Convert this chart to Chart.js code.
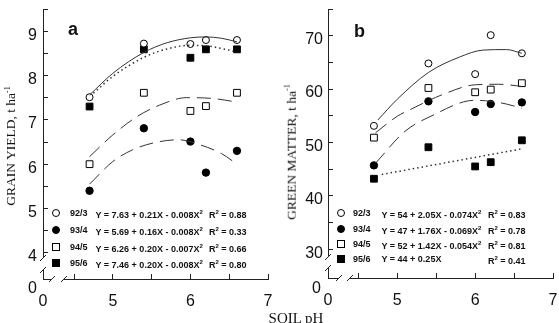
<!DOCTYPE html>
<html>
<head>
<meta charset="utf-8">
<script src="https://cdn.jsdelivr.net/npm/chart.js@4.4.0/dist/chart.umd.min.js"></script>
<style>
body { margin: 0; background: #fff; }
#wrap { position: relative; width: 559px; height: 323px; overflow: hidden; font-family: "Liberation Sans", Arial, sans-serif; color: #111; }
canvas { position: absolute; top: 0; }
#chartA { left: 0; }
#chartB { left: 280px; }
.panel { position: absolute; font-weight: bold; font-size: 18px; line-height: 18px; }
.ytitle { position: absolute; font-family: "Liberation Serif", "Times New Roman", serif; font-size: 13.5px; white-space: nowrap; transform: translate(-50%, -50%) rotate(-90deg); }
.ytitle sup { font-size: 8px; }
.xtitle { position: absolute; font-family: "Liberation Serif", "Times New Roman", serif; font-size: 15px; line-height: 15px; white-space: nowrap; transform: translateX(-50%); }
.origin { position: absolute; z-index: 5; width: 20px; text-align: right; font-size: 16px; line-height: 16px; }
.leg { position: absolute; font-size: 9px; font-weight: bold; white-space: nowrap; line-height: 10px; transform: translateY(-50%); }
.leg sup { font-size: 6px; }
.mk { position: absolute; width: 6px; height: 6px; border: 1px solid #000; transform: translate(-50%, -50%); }
.mk.round { border-radius: 50%; }
.mk.fill { background: #000; }
</style>
</head>
<body>
<div id="wrap">
  <canvas id="chartA" width="280" height="323"></canvas>
  <canvas id="chartB" width="279" height="323"></canvas>
  <div class="panel" style="left:68px;top:20px;">a</div>
  <div class="panel" style="left:354px;top:22px;">b</div>
  <div class="ytitle" style="left:11px;top:146px;">GRAIN YIELD, t ha<sup>-1</sup></div>
  <div class="ytitle" style="left:291px;top:152px;">GREEN MATTER, t ha<sup>-1</sup></div>
  <div class="xtitle" style="left:296px;top:310.5px;">SOIL pH</div>
  <div class="origin" style="left:17px;top:280px;">0</div>
  <div class="origin" style="left:301px;top:280px;">0</div>
  <div id="legA"></div>
  <div id="legB"></div>
</div>
<script>
// soil pH of the plots
const phX = [4.7, 5.4, 6.0, 6.2, 6.6];
const seasons = ['92/3', '93/4', '94/5', '95/6'];

// a - grain yield, t/ha
const grain923 = [7.51, 8.72, 8.71, 8.80, 8.80];
const grain934 = [5.40, 6.81, 6.51, 5.81, 6.30];
const grain945 = [6.00, 7.61, 7.20, 7.31, 7.61];
const grain956 = [7.30, 8.59, 8.40, 8.59, 8.59];

// fitted curves
const grainFitX923 = [4.7, 5.0, 5.4, 5.7, 6.0, 6.2, 6.4, 6.6];
const grainFit923 = [7.56, 8.05, 8.52, 8.74, 8.85, 8.87, 8.84, 8.76];
const grainFitX934 = [4.7, 5.0, 5.25, 5.55, 5.85, 6.1, 6.4, 6.6];
const grainFit934 = [5.55, 6.06, 6.32, 6.49, 6.55, 6.45, 6.24, 6.00];
const grainFitX945 = [4.7, 5.0, 5.3, 5.6, 5.95, 6.3, 6.6];
const grainFit945 = [6.17, 6.66, 7.06, 7.33, 7.50, 7.48, 7.40];
const grainFitX956 = [4.75, 5.0, 5.4, 5.7, 6.0, 6.2, 6.4, 6.6];
const grainFit956 = [7.60, 7.98, 8.41, 8.60, 8.68, 8.67, 8.61, 8.53];

// b - green matter, t/ha
const green923 = [53.1, 64.8, 62.8, 70.1, 66.7];
const green934 = [45.7, 57.7, 55.7, 57.2, 57.5];
const green945 = [50.9, 60.2, 59.4, 59.9, 61.1];
const green956 = [43.2, 49.1, 45.5, 46.3, 50.4];

const greenFitX923 = [4.75, 5.0, 5.4, 5.8, 6.1, 6.4, 6.6];
const greenFit923 = [54.2, 58.1, 63.1, 66.0, 67.3, 67.4, 66.7];
const greenFitX934 = [4.72, 5.1, 5.5, 5.85, 6.0, 6.2, 6.4, 6.6];
const greenFit934 = [46.1, 52.1, 55.4, 57.6, 57.9, 57.7, 57.2, 56.4];
const greenFitX945 = [4.72, 5.0, 5.2, 5.57, 6.0, 6.3, 6.6];
const greenFit945 = [51.8, 54.9, 56.4, 58.9, 60.8, 60.9, 60.5];
const greenFitX956 = [4.8, 6.6];
const greenFit956 = [44.0, 48.8];

// regressions in the legends
const eqA = ['Y = 7.63 + 0.21X - 0.008X²', 'Y = 5.69 + 0.16X - 0.008X²', 'Y = 6.26 + 0.20X - 0.007X²', 'Y = 7.46 + 0.20X - 0.008X²'];
const r2A = ['0.88', '0.33', '0.66', '0.80'];
const eqB = ['Y = 54 + 2.05X - 0.074X²', 'Y = 47 + 1.76X - 0.069X²', 'Y = 52 + 1.42X - 0.054X²', 'Y = 44 + 0.25X'];
const r2B = ['0.83', '0.78', '0.81', '0.41'];

// ticks
const xMajor = [5, 6, 7];
const xMinor = [4.5, 5.5, 6.5];
const yMajorA = [4, 5, 6, 7, 8, 9];
const yMinorA = [4.5, 5.5, 6.5, 7.5, 8.5, 9.5];
const yMajorB = [30, 40, 50, 60, 70];
const yMinorB = [35, 45, 55, 65, 75];

Chart.defaults.font.family = '"Liberation Sans", Arial, sans-serif';
Chart.defaults.color = '#111';

const markerStyle = [
    { pointStyle: 'circle', fill: '#fff', r: 3.5 },
    { pointStyle: 'circle', fill: '#000', r: 3.7 },
    { pointStyle: 'rect', fill: '#fff', r: 4.8 },
    { pointStyle: 'rect', fill: '#000', r: 4.8 }
];
const lineDash = [[], [14, 7], [14, 7], [1.5, 3]];

function pts(xs, ys) {
    return xs.map((x, i) => ({ x: x, y: ys[i] }));
}

// white gap + slashes on both axes near the origin
const breakPlugin = {
    id: 'axisBreak',
    afterDraw(chart, args, opts) {
        const ctx = chart.ctx;
        const x0 = chart.chartArea.left;
        const y0 = chart.chartArea.bottom;
        const g = opts;
        ctx.save();
        ctx.fillStyle = '#fff';
        ctx.fillRect(x0 - 2, y0 - g.yGap[1], 4, g.yGap[1] - g.yGap[0]);
        ctx.fillRect(x0 + g.xGap[0], y0 - 2, g.xGap[1] - g.xGap[0], 4);
        ctx.strokeStyle = '#222';
        ctx.lineWidth = 1;
        ctx.beginPath();
        [g.yGap[0], g.yGap[1]].forEach(d => {
            ctx.moveTo(x0 - 3, y0 - d + 3);
            ctx.lineTo(x0 + 3, y0 - d - 3);
        });
        [g.xGap[0], g.xGap[1]].forEach(d => {
            ctx.moveTo(x0 + d - 3, y0 + 3);
            ctx.lineTo(x0 + d + 3, y0 - 3);
        });
        ctx.stroke();
        ctx.restore();
    }
};

function makeChart(id, c) {
    const datasets = [];
    c.fits.forEach((f, i) => {
        datasets.push({
            data: pts(f[0], f[1]),
            showLine: true,
            pointRadius: 0,
            borderColor: '#333',
            borderWidth: i === 3 ? 1.5 : 1,
            borderDash: lineDash[i],
            cubicInterpolationMode: 'monotone',
            fill: false
        });
    });
    c.series.forEach((s, i) => {
        datasets.push({
            data: pts(phX, s),
            showLine: false,
            pointStyle: markerStyle[i].pointStyle,
            pointRadius: markerStyle[i].r,
            backgroundColor: markerStyle[i].fill,
            borderColor: '#000',
            borderWidth: 1
        });
    });
    // x origin gets a "0", majors their value, minors nothing
    const labelOf = (major, origin) => function (value) {
        if (origin !== null && Math.abs(value - origin) < 1e-6) return '0';
        return major.includes(value) ? String(value) : '';
    };
    return new Chart(document.getElementById(id), {
        type: 'scatter',
        data: { datasets: datasets },
        options: {
            responsive: false,
            animation: false,
            layout: { padding: { top: c.padTop, right: c.padRight, left: 0, bottom: 0 } },
            plugins: {
                legend: { display: false },
                tooltip: { enabled: false },
                axisBreak: { yGap: c.yGap, xGap: c.xGap }
            },
            scales: {
                x: {
                    type: 'linear',
                    min: c.xMin,
                    max: 7,
                    afterBuildTicks: s => { s.ticks = [c.xMin].concat(xMajor, xMinor).sort((a, b) => a - b).map(v => ({ value: v })); },
                    afterFit: s => { s.height = c.xAxisH; s.paddingLeft = 0; s.paddingRight = 0; },
                    ticks: { autoSkip: false, maxRotation: 0, padding: 18, font: { size: 16 }, callback: labelOf(xMajor, c.xMin) },
                    grid: { drawOnChartArea: false, tickLength: -5, tickColor: '#222' },
                    border: { color: '#222', width: 1 }
                },
                y: {
                    type: 'linear',
                    min: c.yMin,
                    max: c.yMax,
                    afterBuildTicks: s => { s.ticks = [c.yMin].concat(c.yMajor, c.yMinor).sort((a, b) => a - b).map(v => ({ value: v })); },
                    afterFit: s => { s.width = c.yAxisW; s.paddingTop = 0; s.paddingBottom = 0; },
                    ticks: { autoSkip: false, padding: c.yPad, labelOffset: 4, font: { size: 16 }, callback: labelOf(c.yMajor, null) },
                    grid: { drawOnChartArea: false, tickLength: -5, tickColor: '#222' },
                    border: { color: '#222', width: 1 }
                }
            }
        },
        plugins: [breakPlugin]
    });
}

makeChart('chartA', {
    series: [grain923, grain934, grain945, grain956],
    fits: [[grainFitX923, grainFit923], [grainFitX934, grainFit934], [grainFitX945, grainFit945], [grainFitX956, grainFit956]],
    xMin: 4.1, yMin: 3.41, yMax: 9.5,
    yMajor: yMajorA, yMinor: yMinorA,
    padTop: 9, padRight: 12, xAxisH: 44, yAxisW: 43, yPad: 11,
    yGap: [9, 21], xGap: [9, 21]
});

makeChart('chartB', {
    series: [green923, green934, green945, green956],
    fits: [[greenFitX923, greenFit923], [greenFitX934, greenFit934], [greenFitX945, greenFit945], [greenFitX956, greenFit956]],
    xMin: 4.11, yMin: 24.6, yMax: 75,
    yMajor: yMajorB, yMinor: yMinorB,
    padTop: 9, padRight: 6, xAxisH: 45, yAxisW: 48, yPad: 10,
    yGap: [10, 21], xGap: [11, 22]
});

// legends inside the plots
function buildLegend(boxId, eqs, r2s, pos) {
    const box = document.getElementById(boxId);
    let html = '';
    seasons.forEach((s, i) => {
        const y = pos.rows[i];
        const cls = 'mk' + (markerStyle[i].pointStyle === 'circle' ? ' round' : '') + (markerStyle[i].fill === '#000' ? ' fill' : '');
        html += `<div class="${cls}" style="left:${pos.mk}px;top:${y}px;"></div>`;
        html += `<div class="leg" style="left:${pos.season}px;top:${y}px;">${s}</div>`;
        html += `<div class="leg" style="left:${pos.eq}px;top:${y}px;">${eqs[i].replace('²', '<sup>2</sup>')}</div>`;
        html += `<div class="leg" style="left:${pos.r2}px;top:${y}px;">R<sup>2</sup> = ${r2s[i]}</div>`;
    });
    box.innerHTML = html;
}
buildLegend('legA', eqA, r2A, { mk: 56, season: 70, eq: 95.5, r2: 209, rows: [212.5, 229.5, 246.5, 263] });
buildLegend('legB', eqB, r2B, { mk: 341, season: 353, eq: 381.5, r2: 488, rows: [213.3, 228.5, 244, 259.3] });
</script>
</body>
</html>
